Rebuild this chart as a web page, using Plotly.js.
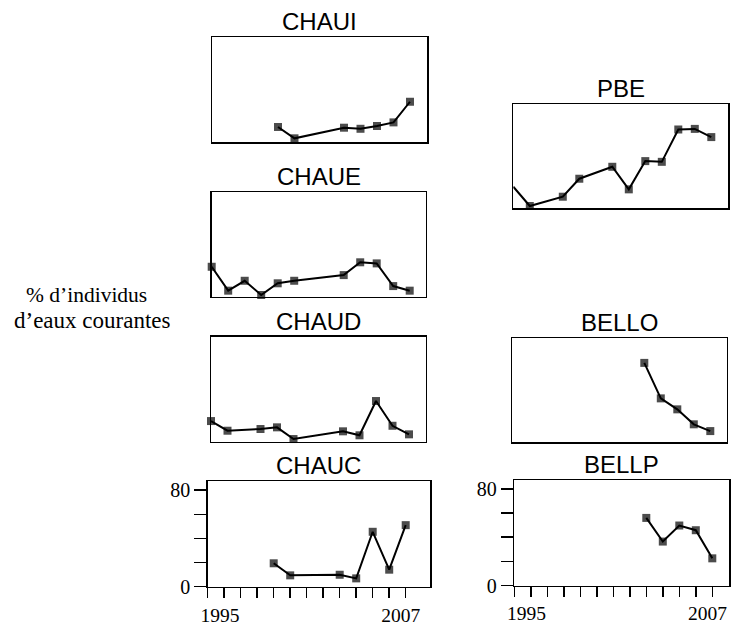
<!DOCTYPE html>
<html>
<head>
<meta charset="utf-8">
<script src="https://cdn.plot.ly/plotly-3.0.1.min.js"></script>
<style>html,body{margin:0;padding:0;background:#fff;}#chart{width:738px;height:625px;}</style>
</head>
<body>
<div id="chart"></div>
<script>
// ---- Data (percentage of running-water individuals per year) ----
const panelNames = ['CHAUI', 'CHAUE', 'CHAUD', 'CHAUC', 'PBE', 'BELLO', 'BELLP'];

const chauiYears = [1999, 2000, 2003, 2004, 2005, 2006, 2007];
const chauiPct   = [12.7, 3.3, 12.1, 11.2, 13.5, 16.5, 33.6];

const chaueYears = [1995, 1996, 1997, 1998, 1999, 2000, 2003, 2004, 2005, 2006, 2007];
const chauePct   = [24.8, 5.0, 13.2, 1.4, 11.1, 13.2, 17.9, 28.5, 27.6, 8.8, 5.0];

const chaudYears = [1995, 1996, 1998, 1999, 2000, 2003, 2004, 2005, 2006, 2007];
const chaudPct   = [17.1, 9.1, 10.5, 11.9, 2.2, 8.6, 5.3, 33.7, 13.2, 6.1];

const chaucYears = [1999, 2000, 2003, 2004, 2005, 2006, 2007];
const chaucPct   = [19.4, 9.4, 9.9, 6.9, 45.5, 14.1, 51.0];

const pbeYears = [1995, 1996, 1998, 1999, 2001, 2002, 2003, 2004, 2005, 2006, 2007];
const pbePct   = [17.9, 1.9, 9.6, 24.5, 34.4, 15.7, 39.1, 38.5, 65.3, 65.8, 59.0];

const belloYears = [2003, 2004, 2005, 2006, 2007];
const belloPct   = [65.8, 36.4, 27.3, 14.9, 9.3];

const bellpYears = [2003, 2004, 2005, 2006, 2007];
const bellpPct   = [56.0, 36.4, 49.7, 45.8, 22.5];

const NB = '\u00a0';
const xTickYears  = [1995,1996,1997,1998,1999,2000,2001,2002,2003,2004,2005,2006,2007];
const xTickLabels = [NB.repeat(5) + '1995','','','','','','','','','','','','2007' + NB.repeat(2)];
const yTickVals   = [0, 20, 40, 60, 80];
const yTickLabels = ['0', '', '', '', '80'];
const yLabelLines = ['% d\u2019individus', 'd\u2019eaux courantes'];

const seriesYears = [chauiYears, chaueYears, chaudYears, chaucYears, pbeYears, belloYears, bellpYears];
const seriesPct   = [chauiPct, chauePct, chaudPct, chaucPct, pbePct, belloPct, bellpPct];

// ---- Layout geometry (pixels in a 738x625 canvas) ----
const W = 738, H = 625;
const boxes = [
  {x: [212, 427],   y: [37.3, 142.3],  axes: false},
  {x: [211.7, 425.7], y: [192.3, 296.7], axes: false},
  {x: [211, 425.7], y: [336.7, 441.7], axes: false},
  {x: [207.7, 430], y: [481, 586.7],   axes: true},
  {x: [513.3, 728.3], y: [104.3, 208.3], axes: false},
  {x: [512.3, 726.7], y: [338.3, 442.3], axes: false},
  {x: [514.3, 729.3], y: [480, 585.5],  axes: true}
];
const pxPerYear = 16.5;
const yMax = 87;

const serif = '"Liberation Serif", "Times New Roman", serif';
const sans = '"Liberation Sans", Arial, sans-serif';

const traces = [];
const layout = {
  width: W, height: H,
  margin: {l: 0, r: 0, t: 0, b: 0},
  paper_bgcolor: '#fff', plot_bgcolor: '#fff',
  showlegend: false,
  annotations: []
};

boxes.forEach((b, i) => {
  const n = i + 1;
  const sfx = n === 1 ? '' : String(n);
  const years = seriesYears[i];
  const sizes = years.map(yr => (panelNames[i] === 'PBE' && yr === 1995) ? 0 : 8);
  traces.push({
    type: 'scatter', mode: 'lines+markers',
    x: years, y: seriesPct[i],
    xaxis: 'x' + sfx, yaxis: 'y' + sfx,
    line: {color: '#000', width: 2},
    marker: {symbol: 'square', size: sizes, color: '#000', line: {width: 0}},
    cliponaxis: false,
    hoverinfo: 'x+y'
  });
  const common = {
    showline: true, mirror: true, linecolor: '#000', linewidth: 1.5,
    showgrid: false, zeroline: false, fixedrange: true
  };
  layout['xaxis' + sfx] = Object.assign({}, common, {
    domain: [b.x[0] / W, b.x[1] / W],
    range: [1995, 1995 + (b.x[1] - b.x[0]) / pxPerYear],
    anchor: 'y' + sfx,
    ticks: b.axes ? 'outside' : '',
    ticklen: 10, tickwidth: 1.5, tickcolor: '#000',
    tickmode: 'array', tickvals: xTickYears, ticktext: xTickLabels,
    showticklabels: b.axes, ticklabelstandoff: 0,
    tickfont: {family: serif, size: 19.5, color: '#000'}
  });
  layout['yaxis' + sfx] = Object.assign({}, common, {
    domain: [1 - b.y[1] / H, 1 - b.y[0] / H],
    range: [0, yMax * (b.y[1] - b.y[0]) / 105],
    anchor: 'x' + sfx,
    ticks: b.axes ? 'outside' : '',
    ticklen: 12, tickwidth: 1.5, tickcolor: '#000',
    tickmode: 'array', tickvals: yTickVals, ticktext: yTickLabels,
    showticklabels: b.axes,
    tickfont: {family: serif, size: 20, color: '#000'}
  });
  layout.annotations.push({
    xref: 'paper', yref: 'paper',
    x: (b.x[0] + b.x[1]) / 2 / W, y: 1 - b.y[0] / H,
    xanchor: 'center', yanchor: 'bottom',
    text: panelNames[i], showarrow: false,
    font: {family: sans, size: 24, color: '#000'}
  });
});

layout.annotations.push({
  xref: 'paper', yref: 'paper', x: 86 / W, y: 1 - 295 / H,
  xanchor: 'center', yanchor: 'middle', height: 22, valign: 'middle',
  text: yLabelLines[0], showarrow: false,
  font: {family: serif, size: 21.5, color: '#000'}
});
layout.annotations.push({
  xref: 'paper', yref: 'paper', x: 92 / W, y: 1 - 320 / H,
  xanchor: 'center', yanchor: 'middle', height: 22, valign: 'middle',
  text: yLabelLines[1], showarrow: false,
  font: {family: serif, size: 23, color: '#000'}
});

Plotly.newPlot('chart', traces, layout, {displayModeBar: false, staticPlot: true});
</script>
</body>
</html>
